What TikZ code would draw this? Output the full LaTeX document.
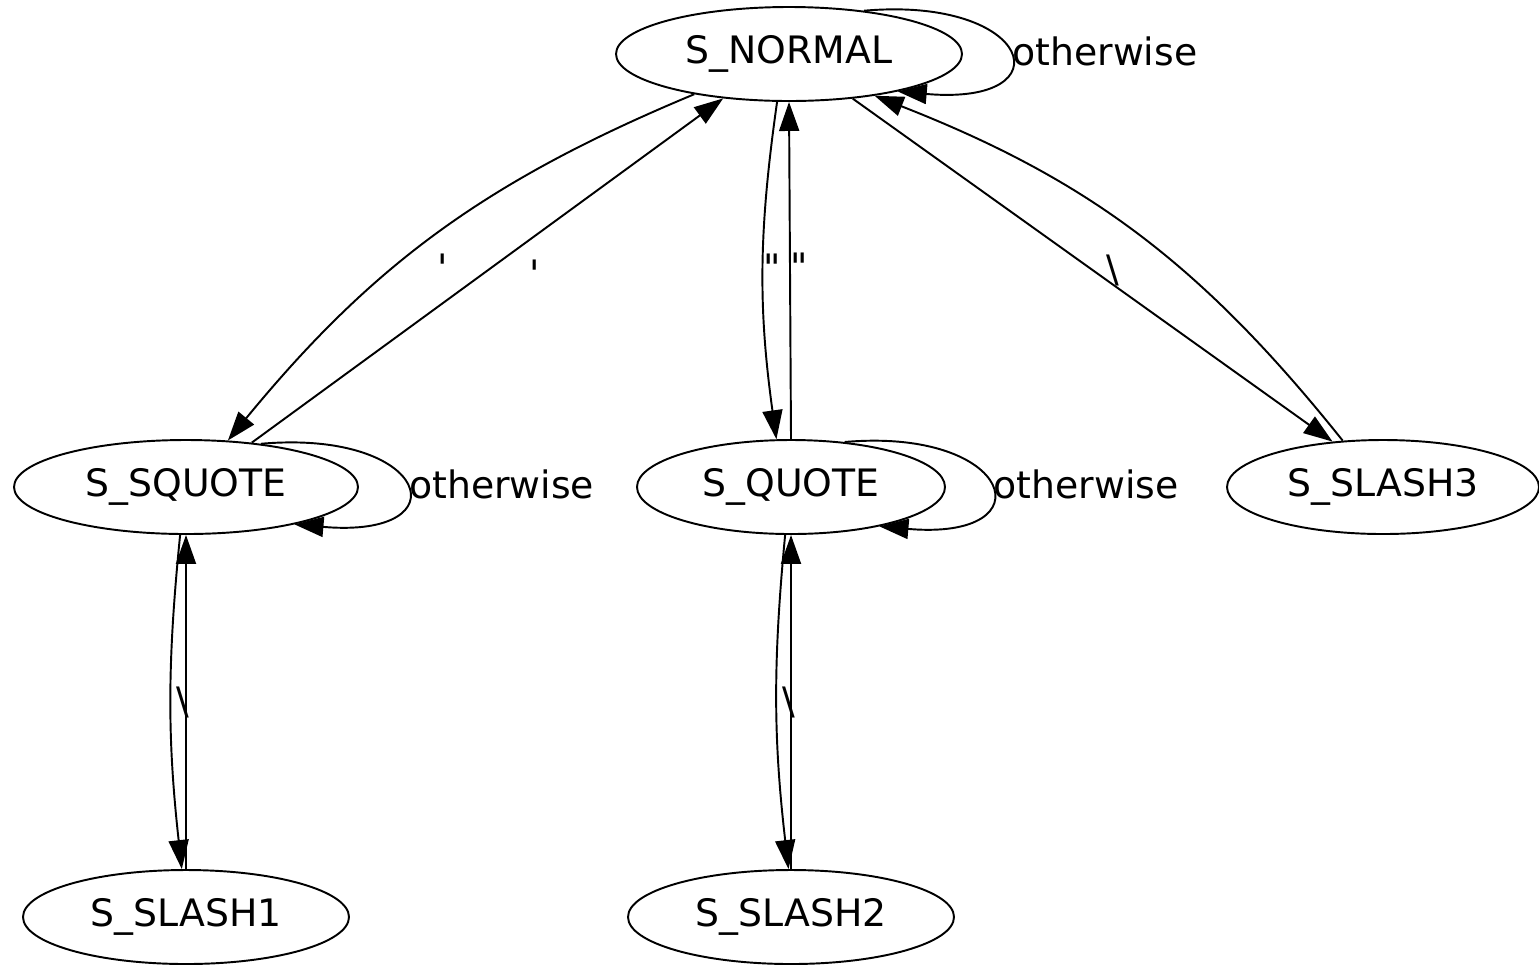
\documentclass[tikz,border=0pt]{standalone}
\usepackage{fontspec}
\newfontfamily\dotfont{DejaVu Sans}
\usetikzlibrary{shapes.geometric, arrows.meta, positioning}

\begin{document}
\begin{tikzpicture}[
    node distance=8.66cm,
    font=\dotfont\fontsize{21.5}{26}\selectfont,
    state/.style={ellipse, minimum height=1.88cm, inner sep=0pt, draw=black, line width=1.1pt},
    lbl/.style={inner sep=2pt},
    arrow/.style={line width=1.1pt, -{Triangle[length=0.58cm, width=0.4cm]}}
]
\useasboundingbox (0,0) rectangle (30.78,-19.3);

\node (normal) [state, minimum width=6.92cm] at (15.78,-1.08) {S\_NORMAL};
\node (squote) [state, minimum width=6.88cm, below of=normal, xshift=-12.06cm] {S\_SQUOTE};
\node (quote) [state, minimum width=6.16cm, below of=normal, xshift=0.04cm] {S\_QUOTE};
\node (slash3) [state, minimum width=6.24cm, right of=quote, xshift=3.18cm] {S\_SLASH3};
\node (slash1) [state, minimum width=6.52cm, below of=squote, yshift=0.06cm] {S\_SLASH1};
\node (slash2) [state, minimum width=6.52cm, below of=quote, yshift=0.06cm] {S\_SLASH2};

\draw [arrow] (normal.203) to[bend right=14] node[lbl, pos=0.6, right=0.78cm] {\textquotesingle} (squote.48);
\draw [arrow] (squote.34) -- node[lbl, pos=0.49, right=0.84cm] {\textquotesingle} (normal.214);
\draw [arrow] (normal.256) to[bend right=8] node[pos=0.49, right, inner sep=0pt] {\textquotedbl} (quote.107);
\draw [arrow] (quote.90) -- node[pos=0.51, right, inner sep=0pt] {\textquotedbl} (normal.270);
\draw [arrow] (normal.325) -- node[lbl, right=0.18cm] {\textbackslash} (slash3.138);
\draw [arrow] (slash3.131) to[bend right=15] (normal.334);
\draw [arrow] (squote.263) to[bend right=6] node[right, inner sep=3pt] {\textbackslash} (slash1.95);
\draw [arrow] (slash1.90) -- (squote.270);
\draw [arrow] (quote.263) to[bend right=6] node[right, inner sep=3pt] {\textbackslash} (slash2.93);
\draw [arrow] (slash2.90) -- (quote.270);
\draw [arrow] (normal.30) to[out=5, in=-5, distance=3.4cm] node[lbl, right] {otherwise} (normal.-19);
\draw [arrow] (squote.30) to[out=5, in=-5, distance=3.4cm] node[lbl, right] {otherwise} (squote.-19);
\draw [arrow] (quote.40) to[out=5, in=-5, distance=3.4cm] node[lbl, right] {otherwise} (quote.-24);

\end{tikzpicture}
\end{document}
